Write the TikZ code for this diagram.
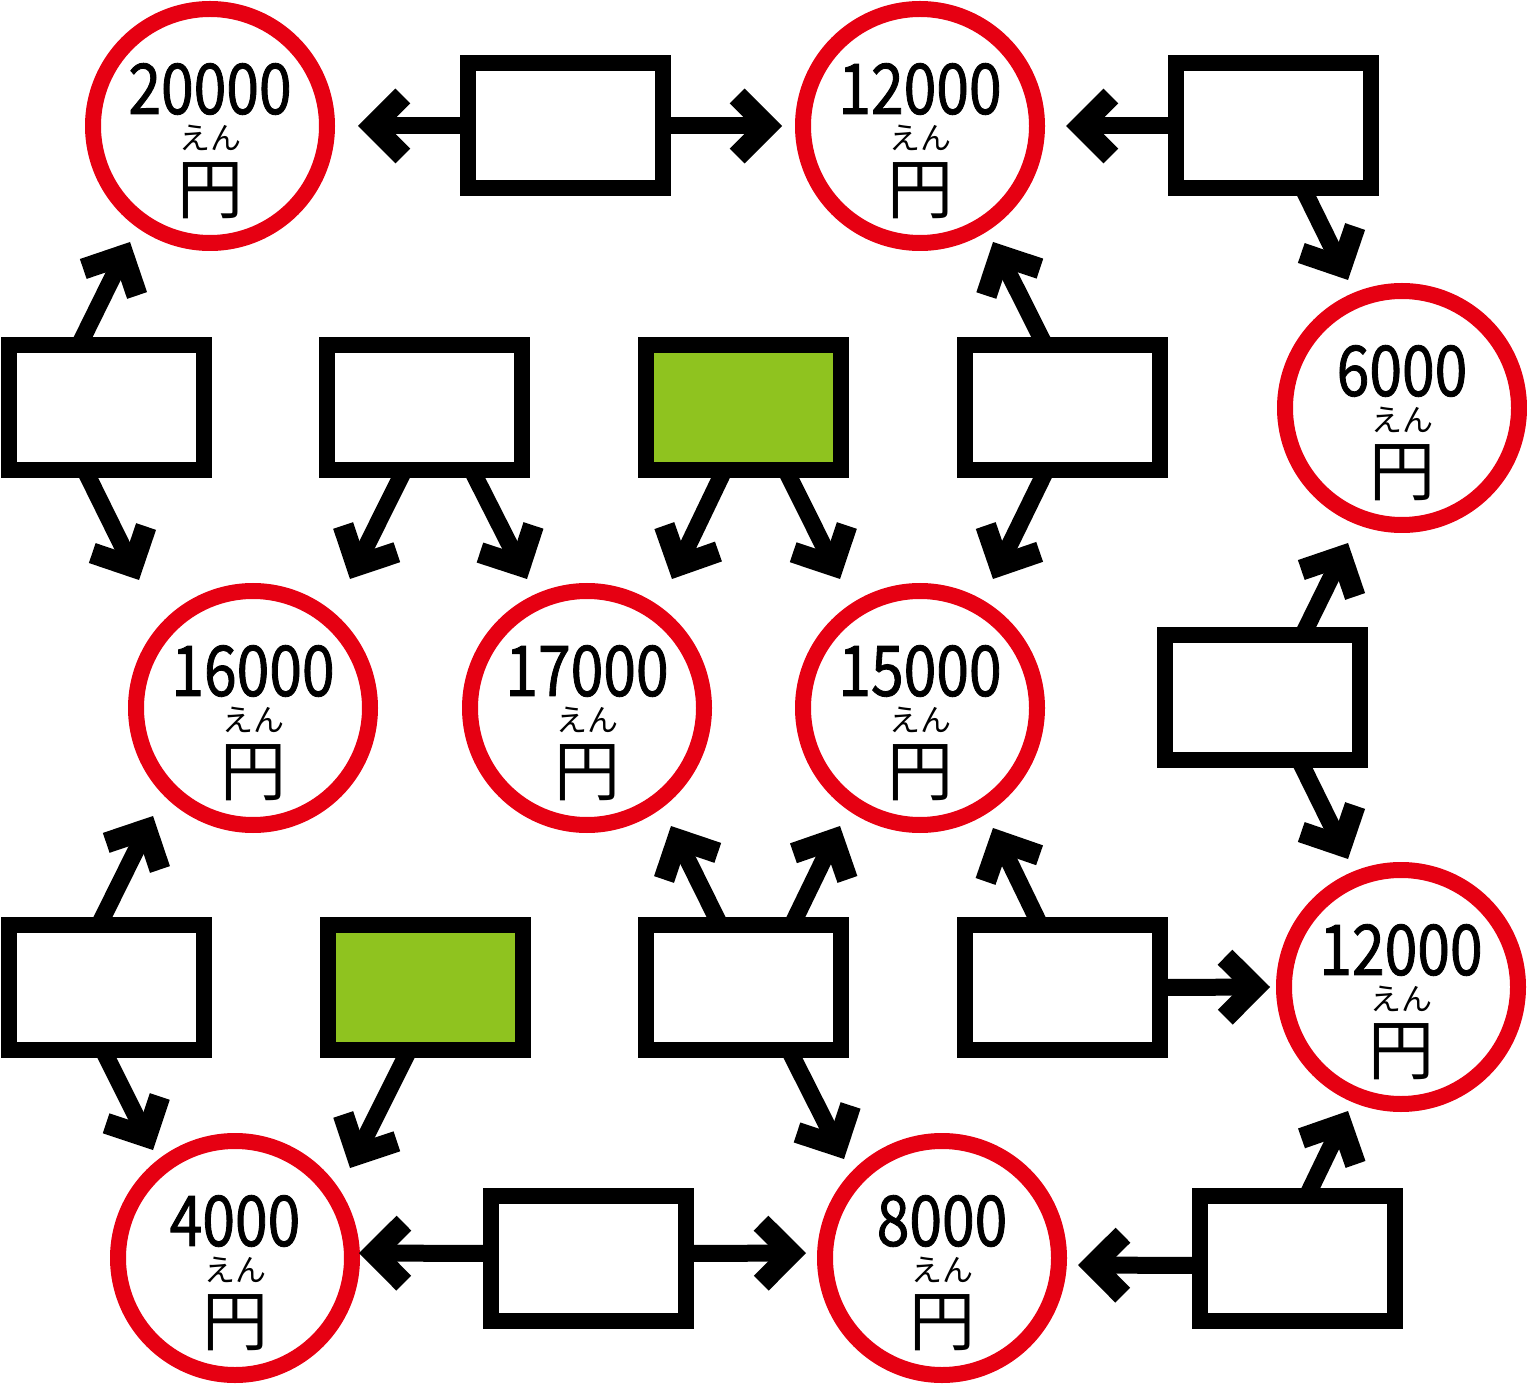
\documentclass[tikz,border=0pt]{standalone}
\usepackage{fontspec}
\usepackage{tikz}
\usetikzlibrary{calc, arrows.meta}
\newfontfamily\numfont[FakeStretch=0.84, FakeBold=1.2]{Noto Sans CJK JP}
\newfontfamily\jpfont{Noto Sans CJK JP}
\definecolor{ringred}{RGB}{230, 0, 18}
\definecolor{boxgreen}{RGB}{143, 195, 31}
% price ring with its three lines of text: name, x, y, amount
\newcommand{\pricering}[4]{%
  \node[price] (#1) at (#2, #3) {};
  \node[pricenum] (#1 num) at ($(#1)+(0,-37)$) {#4};
  \node[pricekana] (#1 kana) at ($(#1)+(0,12)$) {えん};
  \node[priceyen] (#1 yen) at ($(#1)+(0,65)$) {円};
}

\begin{document}
\begin{tikzpicture}[
  x=0.5pt, y=-0.5pt,
  price/.style={circle, draw=ringred, line width=8pt, minimum size=117pt, inner sep=0, outer sep=0},
  pricenum/.style={font=\numfont\fontsize{35}{35}\selectfont, inner sep=0},
  pricekana/.style={font=\jpfont\fontsize{15.5}{15.5}\selectfont, inner sep=0},
  priceyen/.style={font=\jpfont\fontsize{33}{33}\selectfont, inner sep=0},
  blank/.style={draw=black, fill=white, line width=8pt, minimum width=97.5pt, minimum height=62.5pt, inner sep=0, outer sep=0},
  filled/.style={blank, fill=boxgreen},
  link/.style={line width=8.5pt, -{Straight Barb[sharp, length=15pt, width=30pt, line width=10.5pt]}},
]

\useasboundingbox (0, 0) rectangle (1527, 1385);

% ==================== price rings ====================
\pricering{p20000}{210}{126}{20000}
\pricering{p12000top}{920}{126}{12000}
\pricering{p6000}{1402}{408}{6000}
\pricering{p16000}{253}{708}{16000}
\pricering{p17000}{587}{708}{17000}
\pricering{p15000}{920}{708}{15000}
\pricering{p12000right}{1401}{987}{12000}
\pricering{p4000}{235}{1258}{4000}
\pricering{p8000}{942}{1258}{8000}

% ==================== boxes ====================
\node[blank] (boxA) at (565.5, 126) {};
\node[blank] (boxB) at (1273, 126) {};
\node[blank] (boxC) at (106.5, 408) {};
\node[blank] (boxD) at (424.5, 408) {};
\node[filled] (boxE) at (743.5, 408) {};
\node[blank] (boxF) at (1062.5, 408) {};
\node[blank] (boxG) at (1262.5, 697) {};
\node[blank] (boxH) at (106.5, 987.5) {};
\node[filled] (boxI) at (425, 987.5) {};
\node[blank] (boxJ) at (743.5, 987.5) {};
\node[blank] (boxK) at (1062.5, 987.5) {};
\node[blank] (boxL) at (588.5, 1258.5) {};
\node[blank] (boxM) at (1297.5, 1258.5) {};

% ==================== arrows ====================
\draw[link] (boxA.west) -- ($(p20000)+(148,0)$);
\draw[link] (boxA.east) -- ($(p12000top)+(-138,0)$);
\draw[link] (boxB.west) -- ($(p12000top)+(146,0)$);
\draw[link] ($(boxB.south)+(30,0)$) -- ($(p6000)+(-54,-128)$);
\draw[link] ($(boxC.north)+(-27.5,0)$) -- ($(p20000)+(-80,116)$);
\draw[link] ($(boxC.south)+(-21.5,0)$) -- ($(p16000)+(-114,-128)$);
\draw[link] ($(boxD.south)+(-20.5,0)$) -- ($(p16000)+(97,-129)$);
\draw[link] ($(boxD.south)+(47.5,0)$) -- ($(p17000)+(-60,-129)$);
\draw[link] ($(boxE.south)+(-19.5,0)$) -- ($(p17000)+(85,-129)$);
\draw[link] ($(boxE.south)+(42.5,0)$) -- ($(p15000)+(-80,-129)$);
\draw[link] ($(boxF.north)+(-17.5,0)$) -- ($(p12000top)+(73,116)$);
\draw[link] ($(boxF.south)+(-16.5,0)$) -- ($(p15000)+(73,-129)$);
\draw[link] ($(boxG.north)+(40.5,0)$) -- ($(p6000)+(-54,135)$);
\draw[link] ($(boxG.south)+(36.5,0)$) -- ($(p12000right)+(-53,-128)$);
\draw[link] ($(boxH.north)+(-7.5,0)$) -- ($(p16000)+(-100,108)$);
\draw[link] ($(boxH.south)+(-3.5,0)$) -- ($(p4000)+(-82,-108)$);
\draw[link] ($(boxI.south)+(-16,0)$) -- ($(p4000)+(115,-90)$);
\draw[link] ($(boxJ.north)+(-23.5,0)$) -- ($(p17000)+(84,118)$);
\draw[link] ($(boxJ.north)+(48.5,0)$) -- ($(p15000)+(-80,118)$);
\draw[link] ($(boxJ.south)+(45.5,0)$) -- ($(p8000)+(-98,-99)$);
\draw[link] ($(boxK.north)+(-22.5,0)$) -- ($(p15000)+(73,120)$);
\draw[link] (boxK.east) -- ($(p12000right)+(-131,0)$);
\draw[link] ($(boxL.west)+(0,-5)$) -- ($(p4000)+(124,-5)$);
\draw[link] ($(boxL.east)+(0,-5)$) -- ($(p8000)+(-136,-5)$);
\draw[link] ($(boxM.west)+(0,7)$) -- ($(p8000)+(136,7)$);
\draw[link] ($(boxM.north)+(9.5,0)$) -- ($(p12000right)+(-53,124)$);

\end{tikzpicture}
\end{document}
